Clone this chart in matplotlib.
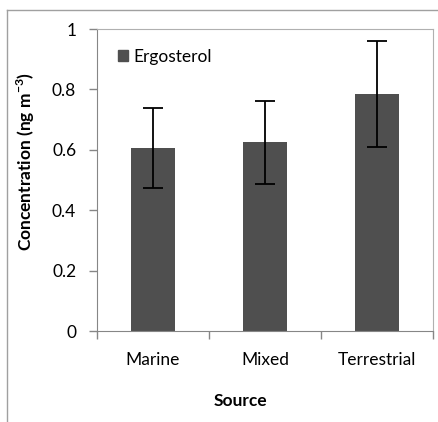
import numpy as np
import matplotlib.pyplot as plt
from matplotlib.lines import Line2D
import matplotlib.patches as mpatches

sources = ['Marine', 'Mixed', 'Terrestrial']
ergosterol = [0.606, 0.625, 0.785]
err = [0.133, 0.137, 0.176]

plt.rcParams['font.family'] = ['Lato', 'DejaVu Sans']

W, H = 438, 422
fig = plt.figure(figsize=(W / 100, H / 100), dpi=100)
ax = fig.add_axes([97 / W, 1 - 331 / H, 336 / W, 302 / H])

x = np.arange(len(sources))
ax.bar(x, ergosterol, width=0.4, color='#4f4f4f', label='Ergosterol', zorder=2)
ax.errorbar(x, ergosterol, yerr=err, fmt='none', ecolor='black',
            elinewidth=1.3, capsize=7, capthick=1.3, zorder=3)

ax.set_xlim(-0.5, 2.5)
ax.set_ylim(0, 1)
ax.set_yticks(np.arange(0, 1.01, 0.2))
ax.set_yticklabels(['0', '0.2', '0.4', '0.6', '0.8', '1'])
ax.set_xticks(x)
ax.set_xticklabels(sources)
ax.set_xticks([-0.5, 0.5, 1.5, 2.5], minor=True)
ax.tick_params(axis='x', which='major', length=0, pad=15, labelsize=12.5)
ax.tick_params(axis='x', which='minor', length=6, color='#868686', width=1)
ax.tick_params(axis='y', length=6, color='#868686', width=1, labelsize=12.5, pad=9)

for s in ax.spines.values():
    s.set_color('#b0b0b0')
ax.spines['left'].set_color('#868686')
ax.spines['bottom'].set_color('#868686')

ax.set_ylabel('Concentration (ng m$^{\\mathregular{-3}}$)', fontweight='bold', fontsize=12.5)
ax.yaxis.set_label_coords((37 - 97) / 336, (331 - 162) / 302)
ax.set_xlabel('Source', fontweight='bold', fontsize=12.5)
ax.xaxis.set_label_coords((240 - 97) / 336, -(393 - 331) / 302)

ax.legend(handles=[mpatches.Patch(color='#4f4f4f', label='Ergosterol')],
          loc='upper left', frameon=False, fontsize=12.5, handlelength=0.6,
          handleheight=0.6, handletextpad=0.3, borderaxespad=0.4,
          bbox_to_anchor=(0.02, 0.98))

# outer chart frame (cropped on right and bottom)
fig.add_artist(Line2D([7 / W, 7 / W], [0, 1 - 10 / H], color='#a0a0a0', lw=1))
fig.add_artist(Line2D([7 / W, 1], [1 - 10 / H, 1 - 10 / H], color='#a0a0a0', lw=1))

fig.savefig('out.png', dpi=100)
